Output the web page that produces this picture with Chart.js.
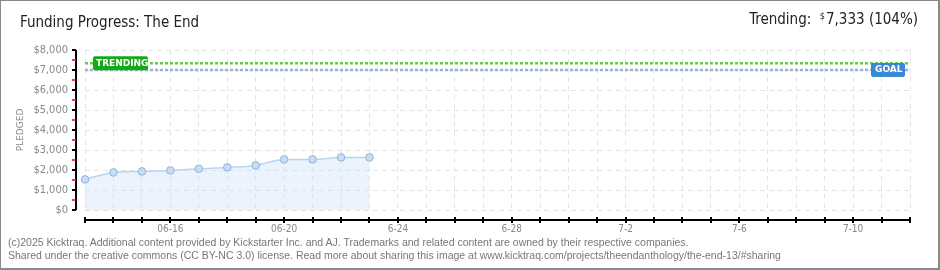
<!DOCTYPE html>
<html>
<head>
<meta charset="utf-8">
<script src="https://cdn.jsdelivr.net/npm/chart.js@4"></script>
<style>
	body { margin: 0; background: #fff; }
	#wrap { position: relative; width: 940px; height: 270px; box-sizing: border-box; border: 1px solid #8a8a8a; border-right-width: 2px; border-bottom-width: 2px; overflow: hidden; font-family: "DejaVu Sans Condensed", "DejaVu Sans", sans-serif; }
	#chart { position: absolute; left: -1px; top: -1px; }
	#titulo { position: absolute; left: 19px; top: 12px; font-size: 15px; color: #222; white-space: nowrap; }
	#trend { position: absolute; right: 20px; top: 9px; font-size: 15px; color: #222; white-space: nowrap; }
	#trend sup { font-size: 9px; vertical-align: 5px; margin-right: 1px; }
	#rodape { position: absolute; left: 7px; top: 235px; font-size: 10.5px; line-height: 13px; color: #777; white-space: nowrap; font-family: "Liberation Sans", sans-serif; }
</style>
</head>
<body>
<div id="wrap">
	<canvas id="chart" width="940" height="270"></canvas>
	<div id="titulo">Funding Progress: The End</div>
	<div id="trend">Trending:&nbsp; <sup>$</sup>7,333 (104%)</div>
	<div id="rodape">(c)2025 Kicktraq. Additional content provided by Kickstarter Inc. and AJ. Trademarks and related content are owned by their respective companies.<br>Shared under the creative commons (CC BY-NC 3.0) license. Read more about sharing this image at www.kicktraq.com/projects/theendanthology/the-end-13/#sharing</div>
</div>
<script>
// dias do projeto (06-13 ate 07-12)
const dias = [
	"06-13", "06-14", "06-15", "06-16", "06-17", "06-18", "06-19", "06-20", "06-21", "06-22",
	"06-23", "06-24", "06-25", "06-26", "06-27", "06-28", "06-29", "06-30", "07-01", "07-02",
	"07-03", "07-04", "07-05", "07-06", "07-07", "07-08", "07-09", "07-10", "07-11", "07-12",
];
// rotulos visiveis no eixo x
const rotulosX = {
	3: "06-16", 7: "06-20", 11: "6-24", 15: "6-28", 19: "7-2", 23: "7-6", 27: "7-10",
};
const arrecadado = [1530, 1880, 1930, 1980, 2060, 2130, 2230, 2530, 2530, 2630, 2630];
const meta = 7000;
const tendencia = 7333;
const yMax = 8000;
const yPasso = 1000;

const eixos = {
	id: "eixos",
	beforeDatasetsDraw(chart) {
		const { ctx, chartArea: a, scales } = chart;
		const y = scales.y, x = scales.x;
		ctx.save();
		// linhas de meta e tendencia
		ctx.lineWidth = 2.5;
		ctx.setLineDash([3, 2]);
		ctx.strokeStyle = "#94b4de";
		ctx.beginPath();
		ctx.moveTo(a.left, y.getPixelForValue(meta));
		ctx.lineTo(a.right, y.getPixelForValue(meta));
		ctx.stroke();
		ctx.strokeStyle = "#5fcc4a";
		ctx.beginPath();
		ctx.moveTo(a.left, y.getPixelForValue(tendencia));
		ctx.lineTo(a.right, y.getPixelForValue(tendencia));
		ctx.stroke();
		ctx.setLineDash([]);

		// eixo y
		const ax = a.left - 9;
		ctx.lineWidth = 2;
		ctx.strokeStyle = "#000";
		ctx.beginPath();
		ctx.moveTo(ax, y.getPixelForValue(yMax));
		ctx.lineTo(ax, y.getPixelForValue(0));
		ctx.stroke();
		for (let v = 0; v <= yMax; v += yPasso / 2) {
			const py = Math.round(y.getPixelForValue(v));
			ctx.lineWidth = v % yPasso === 0 ? 2 : 1.5;
			ctx.strokeStyle = v % yPasso === 0 ? "#000" : "#e00";
			ctx.beginPath();
			ctx.moveTo(ax - 4, py);
			ctx.lineTo(ax, py);
			ctx.stroke();
		}

		// eixo x
		const by = a.bottom + 10;
		ctx.lineWidth = 2;
		ctx.strokeStyle = "#000";
		ctx.beginPath();
		ctx.moveTo(a.left, by);
		ctx.lineTo(a.right, by);
		ctx.stroke();
		for (let i = 0; i < dias.length; i++) {
			const px = Math.round(x.getPixelForValue(i));
			ctx.beginPath();
			ctx.moveTo(px, by - 3);
			ctx.lineTo(px, by + 3);
			ctx.stroke();
		}
		ctx.restore();
	},
	afterDatasetsDraw(chart) {
		const { ctx, chartArea: a, scales } = chart;
		const y = scales.y;
		ctx.save();
		ctx.font = "bold 9px 'DejaVu Sans'";
		ctx.textBaseline = "middle";
		// selo TRENDING
		let ty = y.getPixelForValue(tendencia);
		ctx.fillStyle = "#16a816";
		ctx.beginPath();
		ctx.roundRect(a.left + 8, ty - 7, 55, 14, 2);
		ctx.fill();
		ctx.fillStyle = "#fff";
		ctx.fillText("TRENDING", a.left + 11, ty);
		// selo GOAL
		let gy = y.getPixelForValue(meta);
		ctx.fillStyle = "#3a88d4";
		ctx.beginPath();
		ctx.roundRect(a.right - 39, gy - 7, 34, 14, 2);
		ctx.fill();
		ctx.fillStyle = "#fff";
		ctx.fillText("GOAL", a.right - 35, gy);
		ctx.restore();
	},
};

const grade = { color: "#e4e4e4", lineWidth: 1, drawTicks: false };

new Chart(document.getElementById("chart"), {
	type: "line",
	data: {
		labels: dias,
		datasets: [
			{
				label: "Pledged",
				data: arrecadado,
				borderColor: "#b9d5f2",
				borderWidth: 1.5,
				backgroundColor: "rgba(205, 225, 248, 0.4)",
				fill: "origin",
				cubicInterpolationMode: "monotone",
				pointRadius: 3.8,
				pointBackgroundColor: "#c6ddf6",
				pointBorderColor: "#94b2d8",
				pointBorderWidth: 1,
			},
		],
	},
	options: {
		responsive: false,
		devicePixelRatio: 1,
		animation: false,
		layout: { padding: { top: 50, right: 30, bottom: 0, left: 0 } },
		plugins: { legend: { display: false }, tooltip: { enabled: false } },
		scales: {
			x: {
				grid: grade,
				border: { display: false, dash: [5, 4] },
				afterFit: (s) => { s.height = 60; },
				ticks: {
					autoSkip: false,
					maxRotation: 0,
					padding: 13,
					color: "#888",
					font: { family: "DejaVu Sans Condensed", size: 10 },
					callback: (v, i) => rotulosX[i] || "",
				},
			},
			y: {
				min: 0,
				max: yMax,
				grid: grade,
				border: { display: false, dash: [5, 4] },
				afterFit: (s) => { s.width = 85; },
				ticks: {
					stepSize: yPasso,
					padding: 17,
					color: "#888",
					font: { family: "DejaVu Sans Condensed", size: 11 },
					callback: (v) => "$" + v.toLocaleString("en-US"),
				},
				title: {
					display: true,
					text: "PLEDGED",
					color: "#888",
					font: { family: "DejaVu Sans", size: 9 },
					padding: { top: 15, bottom: 0 },
				},
			},
		},
	},
	plugins: [eixos],
});
</script>
</body>
</html>
